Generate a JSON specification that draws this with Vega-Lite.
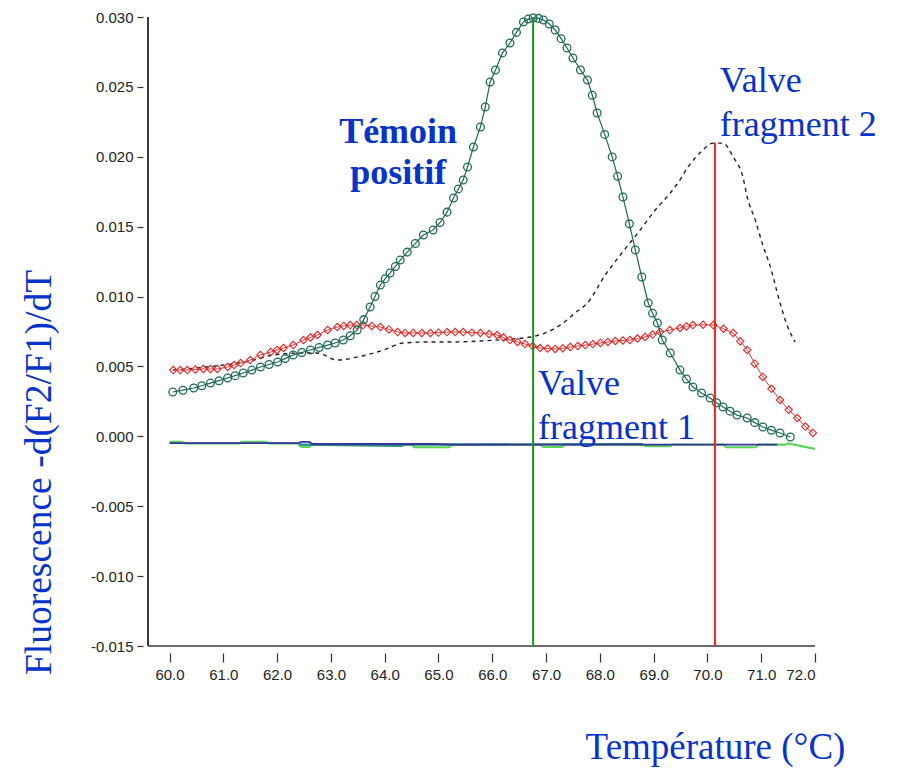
{
  "$schema": "https://vega.github.io/schema/vega-lite/v6.json",
  "width": 667,
  "height": 629,
  "autosize": {"type": "none"},
  "padding": {"left": 148, "top": 17, "right": 88, "bottom": 122},
  "background": "#ffffff",
  "config": {"view": {"stroke": null}, "axis": {"grid": false}},
  "datasets": {
    "teal": [
      {"t": 60.06, "v": 0.00317}, {"t": 60.25, "v": 0.0033}, {"t": 60.45, "v": 0.00346}, {"t": 60.6, "v": 0.00362},
      {"t": 60.76, "v": 0.00381}, {"t": 60.92, "v": 0.00398}, {"t": 61.08, "v": 0.00417}, {"t": 61.22, "v": 0.00434},
      {"t": 61.37, "v": 0.00453}, {"t": 61.53, "v": 0.00474}, {"t": 61.69, "v": 0.00496}, {"t": 61.85, "v": 0.00514},
      {"t": 62.01, "v": 0.00532}, {"t": 62.15, "v": 0.00556}, {"t": 62.3, "v": 0.00582}, {"t": 62.46, "v": 0.006},
      {"t": 62.62, "v": 0.00618}, {"t": 62.78, "v": 0.00636}, {"t": 62.94, "v": 0.00653}, {"t": 63.08, "v": 0.00668},
      {"t": 63.23, "v": 0.00689}, {"t": 63.36, "v": 0.0072}, {"t": 63.49, "v": 0.00761}, {"t": 63.61, "v": 0.00835},
      {"t": 63.73, "v": 0.00925}, {"t": 63.82, "v": 0.01}, {"t": 63.92, "v": 0.01082}, {"t": 64.01, "v": 0.01128},
      {"t": 64.1, "v": 0.01168}, {"t": 64.2, "v": 0.01215}, {"t": 64.29, "v": 0.01261}, {"t": 64.42, "v": 0.01318},
      {"t": 64.57, "v": 0.0138}, {"t": 64.72, "v": 0.0144}, {"t": 64.9, "v": 0.01476}, {"t": 65.03, "v": 0.0153},
      {"t": 65.16, "v": 0.01604}, {"t": 65.28, "v": 0.01705}, {"t": 65.37, "v": 0.0177}, {"t": 65.46, "v": 0.01834},
      {"t": 65.54, "v": 0.01927}, {"t": 65.65, "v": 0.0207}, {"t": 65.78, "v": 0.02213}, {"t": 65.87, "v": 0.02356},
      {"t": 65.96, "v": 0.02535}, {"t": 66.06, "v": 0.02621}, {"t": 66.19, "v": 0.02743}, {"t": 66.33, "v": 0.02814},
      {"t": 66.45, "v": 0.0289}, {"t": 66.58, "v": 0.02964}, {"t": 66.67, "v": 0.02985}, {"t": 66.76, "v": 0.02993},
      {"t": 66.86, "v": 0.0299}, {"t": 66.95, "v": 0.02979}, {"t": 67.06, "v": 0.0295}, {"t": 67.17, "v": 0.02907},
      {"t": 67.28, "v": 0.02845}, {"t": 67.39, "v": 0.02778}, {"t": 67.5, "v": 0.02707}, {"t": 67.64, "v": 0.02621},
      {"t": 67.77, "v": 0.02549}, {"t": 67.86, "v": 0.0244}, {"t": 67.95, "v": 0.02313}, {"t": 68.09, "v": 0.0216},
      {"t": 68.23, "v": 0.01999}, {"t": 68.33, "v": 0.0186}, {"t": 68.43, "v": 0.01712}, {"t": 68.55, "v": 0.0152},
      {"t": 68.66, "v": 0.01333}, {"t": 68.78, "v": 0.0114}, {"t": 68.9, "v": 0.00954}, {"t": 68.98, "v": 0.0088},
      {"t": 69.07, "v": 0.00811}, {"t": 69.16, "v": 0.00689}, {"t": 69.31, "v": 0.00596}, {"t": 69.49, "v": 0.00474},
      {"t": 69.61, "v": 0.0041}, {"t": 69.73, "v": 0.00353}, {"t": 69.89, "v": 0.0031}, {"t": 70.05, "v": 0.00274},
      {"t": 70.17, "v": 0.0024}, {"t": 70.29, "v": 0.0021}, {"t": 70.42, "v": 0.0018}, {"t": 70.55, "v": 0.00152},
      {"t": 70.74, "v": 0.00131}, {"t": 70.88, "v": 0.00098}, {"t": 71.03, "v": 0.00067}, {"t": 71.19, "v": 0.00044},
      {"t": 71.35, "v": 0.00024}, {"t": 71.54, "v": -0.00005}
    ],
    "red": [
      {"t": 60.07, "v": 0.00474}, {"t": 60.2, "v": 0.00474}, {"t": 60.33, "v": 0.00474}, {"t": 60.48, "v": 0.00478},
      {"t": 60.63, "v": 0.00482}, {"t": 60.76, "v": 0.00482}, {"t": 60.89, "v": 0.00482}, {"t": 61.08, "v": 0.00496},
      {"t": 61.2, "v": 0.0051}, {"t": 61.32, "v": 0.00524}, {"t": 61.5, "v": 0.00546}, {"t": 61.69, "v": 0.00582},
      {"t": 61.88, "v": 0.00603}, {"t": 62.0, "v": 0.00618}, {"t": 62.12, "v": 0.00632}, {"t": 62.3, "v": 0.00653},
      {"t": 62.49, "v": 0.00689}, {"t": 62.62, "v": 0.00707}, {"t": 62.75, "v": 0.00725}, {"t": 62.94, "v": 0.00761},
      {"t": 63.12, "v": 0.00782}, {"t": 63.24, "v": 0.0079}, {"t": 63.36, "v": 0.00796}, {"t": 63.48, "v": 0.00796},
      {"t": 63.6, "v": 0.00796}, {"t": 63.76, "v": 0.0079}, {"t": 63.92, "v": 0.00782}, {"t": 64.08, "v": 0.00765},
      {"t": 64.24, "v": 0.00746}, {"t": 64.38, "v": 0.0074}, {"t": 64.53, "v": 0.00739}, {"t": 64.69, "v": 0.00739},
      {"t": 64.85, "v": 0.00739}, {"t": 65.0, "v": 0.00742}, {"t": 65.16, "v": 0.00746}, {"t": 65.31, "v": 0.00746},
      {"t": 65.46, "v": 0.00746}, {"t": 65.62, "v": 0.00742}, {"t": 65.78, "v": 0.00739}, {"t": 65.94, "v": 0.00732},
      {"t": 66.09, "v": 0.00725}, {"t": 66.21, "v": 0.00707}, {"t": 66.33, "v": 0.00689}, {"t": 66.47, "v": 0.00675},
      {"t": 66.61, "v": 0.0066}, {"t": 66.75, "v": 0.00646}, {"t": 66.89, "v": 0.00632}, {"t": 67.03, "v": 0.00628},
      {"t": 67.17, "v": 0.00625}, {"t": 67.31, "v": 0.0063}, {"t": 67.45, "v": 0.00639}, {"t": 67.59, "v": 0.00646},
      {"t": 67.73, "v": 0.00653}, {"t": 67.87, "v": 0.0066}, {"t": 68.01, "v": 0.00668}, {"t": 68.15, "v": 0.00675},
      {"t": 68.29, "v": 0.00682}, {"t": 68.43, "v": 0.00686}, {"t": 68.56, "v": 0.00689}, {"t": 68.7, "v": 0.007},
      {"t": 68.84, "v": 0.00711}, {"t": 68.98, "v": 0.00728}, {"t": 69.12, "v": 0.00746}, {"t": 69.3, "v": 0.0076},
      {"t": 69.49, "v": 0.00775}, {"t": 69.61, "v": 0.00786}, {"t": 69.73, "v": 0.00796}, {"t": 69.92, "v": 0.00798},
      {"t": 70.11, "v": 0.00796}, {"t": 70.3, "v": 0.0077}, {"t": 70.48, "v": 0.00739}, {"t": 70.61, "v": 0.0068},
      {"t": 70.74, "v": 0.00618}, {"t": 70.88, "v": 0.0052}, {"t": 71.03, "v": 0.00425}, {"t": 71.19, "v": 0.0034},
      {"t": 71.35, "v": 0.0026}, {"t": 71.51, "v": 0.0019}, {"t": 71.67, "v": 0.00131}, {"t": 71.82, "v": 0.0007},
      {"t": 71.96, "v": 0.00024}
    ],
    "black": [
      {"t": 60.06, "v": 0.00474}, {"t": 60.85, "v": 0.00503}, {"t": 61.5, "v": 0.00539}, {"t": 61.93, "v": 0.00582},
      {"t": 62.43, "v": 0.00596}, {"t": 62.75, "v": 0.00596}, {"t": 63.12, "v": 0.00546}, {"t": 63.49, "v": 0.00567},
      {"t": 63.98, "v": 0.00618}, {"t": 64.35, "v": 0.00668}, {"t": 64.85, "v": 0.00675}, {"t": 65.22, "v": 0.00675},
      {"t": 65.78, "v": 0.00682}, {"t": 66.33, "v": 0.00696}, {"t": 66.71, "v": 0.00711}, {"t": 66.98, "v": 0.00739},
      {"t": 67.32, "v": 0.00811}, {"t": 67.54, "v": 0.00883}, {"t": 67.77, "v": 0.00954}, {"t": 68.1, "v": 0.01154},
      {"t": 68.38, "v": 0.01297}, {"t": 68.75, "v": 0.01476}, {"t": 69.03, "v": 0.01619}, {"t": 69.31, "v": 0.01741},
      {"t": 69.49, "v": 0.01834}, {"t": 69.64, "v": 0.01927}, {"t": 69.86, "v": 0.02027}, {"t": 70.11, "v": 0.02098},
      {"t": 70.29, "v": 0.02098}, {"t": 70.48, "v": 0.01998}, {"t": 70.66, "v": 0.01855}, {"t": 70.74, "v": 0.01712},
      {"t": 70.89, "v": 0.01547}, {"t": 71.03, "v": 0.01368}, {"t": 71.16, "v": 0.01225}, {"t": 71.35, "v": 0.00954},
      {"t": 71.48, "v": 0.00796}, {"t": 71.63, "v": 0.00675}
    ],
    "green": [
      {"t": 60.0, "v": -0.0004}, {"t": 60.2, "v": -0.0004}, {"t": 60.3, "v": -0.0005}, {"t": 61.3, "v": -0.0005},
      {"t": 61.35, "v": -0.0004}, {"t": 61.8, "v": -0.0004}, {"t": 61.85, "v": -0.0005}, {"t": 62.4, "v": -0.0005},
      {"t": 62.45, "v": -0.00075}, {"t": 62.6, "v": -0.00075}, {"t": 62.65, "v": -0.0006}, {"t": 64.5, "v": -0.0006},
      {"t": 64.55, "v": -0.00078}, {"t": 65.2, "v": -0.00078}, {"t": 65.25, "v": -0.0006}, {"t": 66.9, "v": -0.0006},
      {"t": 66.95, "v": -0.00075}, {"t": 67.3, "v": -0.00075}, {"t": 67.35, "v": -0.0006}, {"t": 68.8, "v": -0.0006},
      {"t": 68.85, "v": -0.0007}, {"t": 69.3, "v": -0.0007}, {"t": 69.35, "v": -0.0006}, {"t": 70.3, "v": -0.0006},
      {"t": 70.35, "v": -0.00078}, {"t": 70.9, "v": -0.00078}, {"t": 70.95, "v": -0.0006}, {"t": 71.45, "v": -0.0006},
      {"t": 71.5, "v": -0.0005}, {"t": 72.0, "v": -0.0009}
    ],
    "tealbase": [
      {"t": 62.4, "v": -0.0006}, {"t": 64.3, "v": -0.00068}, {"t": 64.4, "v": -0.0006}, {"t": 65.2, "v": -0.0006},
      {"t": 68.4, "v": -0.00055}, {"t": 68.8, "v": -0.00055}
    ],
    "blue": [
      {"t": 60.0, "v": -0.00048}, {"t": 62.4, "v": -0.00048}, {"t": 62.45, "v": -0.0004}, {"t": 62.6, "v": -0.0004},
      {"t": 62.65, "v": -0.00055}, {"t": 64.9, "v": -0.00055}, {"t": 65.3, "v": -0.0006}, {"t": 71.3, "v": -0.0006}
    ]
  },
  "encoding": {
    "x": {
      "field": "t", "type": "quantitative",
      "scale": {"domain": [59.6, 72], "nice": false, "zero": false},
      "axis": {
        "title": "Température (°C)",
        "values": [60, 61, 62, 63, 64, 65, 66, 67, 68, 69, 70, 71, 72],
        "format": ".1f", "offset": 7, "domain": false,
        "tickSize": 9, "tickColor": "#333333", "tickWidth": 1.2,
        "labelFont": "Liberation Sans", "labelFontSize": 15, "labelColor": "#222222", "labelPadding": 5,
        "titleFont": "Liberation Serif", "titleFontSize": 37, "titleFontWeight": "normal", "titleColor": "#0633C8",
        "titleX": 567, "titleY": 105, "titleAlign": "center", "titleBaseline": "alphabetic"
      }
    },
    "y": {
      "field": "v", "type": "quantitative",
      "scale": {"domain": [-0.015, 0.03], "nice": false, "zero": false},
      "axis": {
        "title": "Fluorescence -d(F2/F1)/dT",
        "values": [-0.015, -0.01, -0.005, 0, 0.005, 0.01, 0.015, 0.02, 0.025, 0.03],
        "labelExpr": "(datum.value < 0 ? '-' : '') + format(abs(datum.value), '.3f')",
        "offset": 5, "domain": false,
        "tickSize": 6, "tickColor": "#333333", "tickWidth": 1.2,
        "labelFont": "Liberation Sans", "labelFontSize": 15, "labelColor": "#222222", "labelPadding": 4,
        "titleFont": "Liberation Serif", "titleFontSize": 37.5, "titleFontWeight": "normal", "titleColor": "#0633C8",
        "titleX": -93, "titleY": 455, "titleAngle": -90, "titleAlign": "center", "titleBaseline": "alphabetic"
      }
    }
  },
  "layer": [
    {
      "data": {"values": [{"t": 59.6, "v": -0.015, "v2": 0.03}]},
      "mark": {"type": "rule", "color": "#3a3a3a", "strokeWidth": 2},
      "encoding": {"y2": {"field": "v2"}}
    },
    {
      "data": {"values": [{"t": 59.6, "t2": 72, "v": -0.015}]},
      "mark": {"type": "rule", "color": "#3a3a3a", "strokeWidth": 1.6},
      "encoding": {"x2": {"field": "t2"}}
    },
    {
      "data": {"name": "green"},
      "mark": {"type": "line", "color": "#5BD65B", "strokeWidth": 2.2}
    },
    {
      "data": {"name": "tealbase"},
      "mark": {"type": "line", "color": "#2A8C86", "strokeWidth": 2.2}
    },
    {
      "data": {"name": "blue"},
      "mark": {"type": "line", "color": "#35359C", "strokeWidth": 1.8}
    },
    {
      "data": {"name": "black"},
      "mark": {"type": "line", "color": "#222222", "strokeWidth": 1.4, "strokeDash": [4, 4], "interpolate": "monotone"}
    },
    {
      "data": {"name": "red"},
      "mark": {"type": "line", "color": "#E23A3A", "strokeWidth": 1}
    },
    {
      "data": {"name": "red"},
      "mark": {"type": "point", "shape": "diamond", "filled": false, "size": 55, "stroke": "#E02828", "strokeWidth": 1.1, "opacity": 1}
    },
    {
      "data": {"name": "teal"},
      "mark": {"type": "line", "color": "#1E6B55", "strokeWidth": 1.2}
    },
    {
      "data": {"name": "teal"},
      "mark": {"type": "point", "shape": "circle", "filled": false, "size": 60, "stroke": "#1E6B55", "strokeWidth": 1.3, "opacity": 1}
    },
    {
      "data": {"values": [{"t": 66.76, "v": 0.0299, "v2": -0.015}]},
      "mark": {"type": "rule", "color": "#1A921A", "strokeWidth": 2},
      "encoding": {"y2": {"field": "v2"}}
    },
    {
      "data": {"values": [{"t": 70.14, "v": 0.021, "v2": -0.015}]},
      "mark": {"type": "rule", "color": "#FF1E1E", "strokeWidth": 2},
      "encoding": {"y2": {"field": "v2"}}
    },
    {
      "data": {"values": [{"t": 64.25, "v": 0.02099, "label": "Témoin\npositif"}]},
      "mark": {"type": "text", "font": "Liberation Serif", "fontSize": 36, "fontWeight": "bold", "color": "#0633C8", "align": "center", "baseline": "alphabetic", "lineBreak": "\n", "lineHeight": 41},
      "encoding": {"text": {"field": "label"}}
    },
    {
      "data": {"values": [{"t": 70.23, "v": 0.02463, "label": "Valve\nfragment 2"}, {"t": 66.85, "v": 0.00296, "label": "Valve\nfragment 1"}]},
      "mark": {"type": "text", "font": "Liberation Serif", "fontSize": 36, "color": "#0633C8", "align": "left", "baseline": "alphabetic", "lineBreak": "\n", "lineHeight": 44},
      "encoding": {"text": {"field": "label"}}
    }
  ]
}
